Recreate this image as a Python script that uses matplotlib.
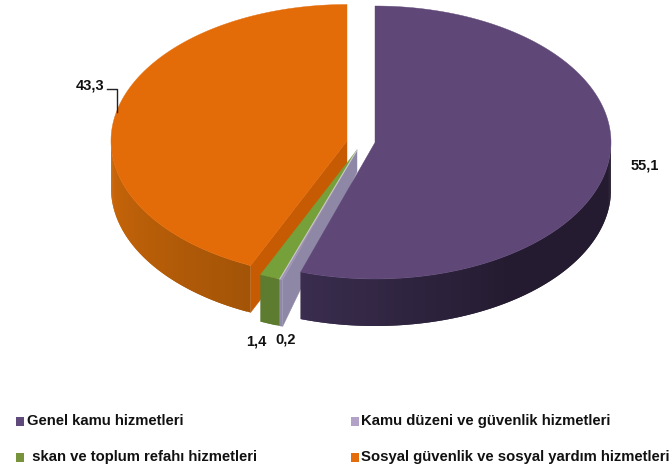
#3D looking pie, drawn by hand because matplotlib has no 3D pie
import numpy as np
import matplotlib
matplotlib.use('Agg')
import matplotlib.pyplot as plt
from matplotlib.patches import Polygon, Rectangle
from matplotlib.colors import to_rgb

categories = ['Genel kamu hizmetleri', 'Kamu düzeni ve güvenlik hizmetleri',
              ' skan ve toplum refahı hizmetleri', 'Sosyal güvenlik ve sosyal yardım hizmetleri']
values = [55.1, 0.2, 1.4, 43.3]
value_labels = ['55,1', '0,2', '1,4', '43,3']

top_colors = ['#5f4777', '#9e93b5', '#76a03a', '#e36c09']
legend_colors = ['#604a7b', '#b3a2c7', '#77933c', '#e46c0a']
wall_light = ['#3a2d4f', '#8f88a8', '#5d7c30', '#cc670a']
wall_dark = ['#241b30', '#8f88a8', '#5d7c30', '#a35407']
centers = [(375, 142.5), (357, 150), (357, 150), (347, 141)]
rx, ry, depth = 236, 136.5, 47

plt.rcParams['font.family'] = ['Liberation Sans', 'DejaVu Sans']
fig = plt.figure(figsize=(6.72, 4.74), dpi=100)
ax = fig.add_axes([0, 0, 1, 1])
ax.set_xlim(0, 672)
ax.set_ylim(474, 0)
ax.axis('off')

def rim(c, t):
    return c[0] + rx*np.sin(t), c[1] - ry*np.cos(t)

def blend(a, b, f):
    a, b = np.array(to_rgb(a)), np.array(to_rgb(b))
    return tuple(a + (b-a)*f)

edges = np.radians(np.concatenate([[0], np.cumsum(values)]) * 3.6)

def draw_slice(i, apex_depth):
    c = centers[i]
    t0, t1 = edges[i], edges[i+1]
    # cut faces go first, the rim wall and top cover them
    if i in (1, 3):
        face = '#8e88a6' if i == 1 else '#c75b03'
        x, y = rim(c, t0)
        ax.add_patch(Polygon([c, (c[0], c[1]+apex_depth), (x, y+depth), (x, y)],
                             fc=face, ec=face, lw=0.3))
    # outer wall, only the part facing the viewer
    a0, a1 = max(t0, np.pi/2), min(t1, 3*np.pi/2)
    n = max(2, int((a1-a0)*60))
    ts = np.linspace(a0, a1, n+1)
    for j in range(n):
        # each strip runs under the next one so no seams show
        tt = np.linspace(ts[j], ts[min(j+2, n)], 6)
        xs, ys = rim(c, tt)
        if i == 3:
            f = (3*np.pi/2 - ts[j])/(np.pi*0.37)
        else:
            f = (t1 - ts[j])/(np.pi*0.3)
        col = blend(wall_light[i], wall_dark[i], min(f, 1))
        ax.add_patch(Polygon(np.column_stack([np.r_[xs, xs[::-1]], np.r_[ys, ys[::-1]+depth]]),
                             fc=col, ec='none'))
    ts = np.linspace(t0, t1, 200)
    xs, ys = rim(c, ts)
    ax.add_patch(Polygon(np.column_stack([np.r_[c[0], xs], np.r_[c[1], ys]]),
                         fc=top_colors[i], ec=top_colors[i], lw=0.3))

draw_slice(3, 47)
draw_slice(2, 47)
draw_slice(1, 22)
# pale line between the green and gray slices
x, y = rim(centers[2], edges[2])
ax.plot([centers[2][0], x], [centers[2][1], y], color='#c9c9c9', lw=0.8)
draw_slice(0, 47)

# data labels
label_pos = [(645, 165), (285.5, 340), (256, 341), (90.5, 85)]
for s, p in zip(value_labels, label_pos):
    ax.text(p[0], p[1], s, fontsize=10.5, fontweight='bold', ha='center', va='center', color='#111111')
ax.plot([107, 117, 117], [89, 89, 112], color='#222222', lw=1)

# legend
legend_pos = [(16, 27, 421), (351, 361, 421), (16, 28, 457), (351, 361, 457)]
for i, (sx, tx, y) in enumerate(legend_pos):
    ax.add_patch(Rectangle((sx, y-4.5), 8, 9, fc=legend_colors[i], ec='none'))
    ax.text(tx, y, categories[i], fontsize=10.7, fontweight='bold', ha='left', va='center', color='#111111')

plt.savefig('out.png', dpi=100)
